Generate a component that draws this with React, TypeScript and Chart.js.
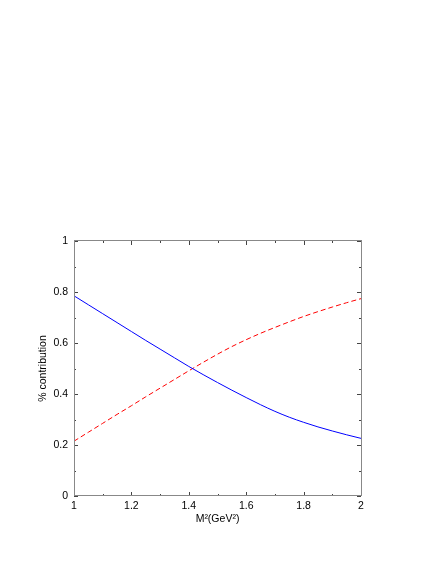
import React, { useEffect, useRef } from "react";
import { Chart, registerables } from "chart.js";

Chart.register(...registerables);

// M^2 values (GeV^2)
const massSquared = [
  1.0, 1.05, 1.1, 1.15, 1.2, 1.25, 1.3, 1.35, 1.4, 1.45, 1.5,
  1.55, 1.6, 1.65, 1.7, 1.75, 1.8, 1.85, 1.9, 1.95, 2.0,
];

// solid blue curve
const blueContribution = [
  0.785, 0.75, 0.715, 0.68, 0.645, 0.61, 0.576, 0.542, 0.508, 0.476, 0.445,
  0.415, 0.386, 0.358, 0.332, 0.309, 0.289, 0.271, 0.255, 0.24, 0.226,
];

// dashed red curve
const redContribution = [
  0.215, 0.25, 0.285, 0.32, 0.354, 0.389, 0.423, 0.457, 0.491, 0.524, 0.556,
  0.586, 0.613, 0.638, 0.661, 0.683, 0.704, 0.723, 0.741, 0.758, 0.774,
];

const xTickLabels = ["1", "1.2", "1.4", "1.6", "1.8", "2"];
const yTickLabels = ["0", "0.2", "0.4", "0.6", "0.8", "1"];
const xMinorStep = 0.1;
const yMinorStep = 0.1;
const xAxisTitle = "M\u00B2(GeV\u00B2)";
const yAxisTitle = "% contribution";

const FONT = "'Liberation Sans', Arial, Helvetica, sans-serif";

const framePlugin = {
  id: "frameTicks",
  afterDatasetsDraw(chart: any) {
    const { ctx, chartArea, scales } = chart;
    const { left, right, top, bottom } = chartArea;
    const xs = scales.x;
    const ys = scales.y;
    ctx.save();
    ctx.strokeStyle = "#444";
    ctx.lineWidth = 1;
    ctx.beginPath();
    const nx = Math.round((xs.max - xs.min) / xMinorStep);
    for (let i = 0; i <= nx; i++) {
      const v = xs.min + i * xMinorStep;
      const px = Math.round(xs.getPixelForValue(v)) + 0.5;
      const len = i % 2 === 0 ? 4 : 2;
      ctx.moveTo(px, bottom);
      ctx.lineTo(px, bottom - len);
      ctx.moveTo(px, top);
      ctx.lineTo(px, top + len);
    }
    const ny = Math.round((ys.max - ys.min) / yMinorStep);
    for (let i = 0; i <= ny; i++) {
      const v = ys.min + i * yMinorStep;
      const py = Math.round(ys.getPixelForValue(v)) + 0.5;
      const len = i % 2 === 0 ? 4 : 2;
      ctx.moveTo(left, py);
      ctx.lineTo(left + len, py);
      ctx.moveTo(right, py);
      ctx.lineTo(right - len, py);
    }
    ctx.stroke();
    ctx.strokeStyle = "#888";
    ctx.lineWidth = 1;
    ctx.strokeRect(
      Math.round(left) + 0.5,
      Math.round(top) - 0.5,
      Math.round(right) - Math.round(left),
      Math.round(bottom) - Math.round(top)
    );
    ctx.restore();
  },
};

export default function App() {
  const ref = useRef<HTMLCanvasElement | null>(null);

  useEffect(() => {
    if (!ref.current) return;
    const blueData = massSquared.map((x, i) => ({ x, y: blueContribution[i] }));
    const redData = massSquared.map((x, i) => ({ x, y: redContribution[i] }));
    const chart = new Chart(ref.current, {
      type: "line",
      data: {
        datasets: [
          {
            label: "blue",
            data: blueData,
            borderColor: "#0000ff",
            borderWidth: 1,
            pointRadius: 0,
            cubicInterpolationMode: "monotone",
            fill: false,
          },
          {
            label: "red",
            data: redData,
            borderColor: "#ff0000",
            borderWidth: 1,
            borderDash: [5, 3],
            pointRadius: 0,
            cubicInterpolationMode: "monotone",
            fill: false,
          },
        ],
      },
      options: {
        animation: false,
        responsive: false,
        devicePixelRatio: 1,
        layout: {
          autoPadding: false,
          padding: { left: 0, top: 241, right: 75, bottom: 0 },
        },
        plugins: {
          legend: { display: false },
          tooltip: { enabled: false },
        },
        scales: {
          x: {
            type: "linear",
            min: 1,
            max: 2,
            grid: { display: false, drawTicks: false },
            border: { display: false },
            ticks: {
              stepSize: 0.2,
              padding: 4,
              color: "#000",
              font: { family: FONT, size: 10.5 },
              maxRotation: 0,
              callback: (_v: any, i: number) => xTickLabels[i],
            },
            title: {
              display: true,
              text: xAxisTitle,
              color: "#000",
              font: { family: FONT, size: 10.5 },
              padding: { top: 0, bottom: 39 },
            },
            afterFit: (s: any) => {
              s.height = 68;
              s.paddingLeft = 0;
              s.paddingRight = 0;
            },
          },
          y: {
            type: "linear",
            min: 0,
            max: 1,
            grid: { display: false, drawTicks: false },
            border: { display: false },
            ticks: {
              stepSize: 0.2,
              padding: 6,
              color: "#000",
              font: { family: FONT, size: 10.5 },
              callback: (_v: any, i: number) => yTickLabels[i],
            },
            title: {
              display: true,
              text: yAxisTitle,
              color: "#000",
              font: { family: FONT, size: 10.5 },
              padding: { top: 37, bottom: 0 },
            },
            afterFit: (s: any) => {
              s.width = 74;
              s.paddingTop = 0;
              s.paddingBottom = 0;
            },
          },
        },
      },
      plugins: [framePlugin],
    });
    return () => chart.destroy();
  }, []);

  return (
    <div style={{ position: "fixed", left: 0, top: 0, width: 436, height: 564, background: "#fff" }}>
      <canvas ref={ref} width={436} height={564} />
    </div>
  );
}
